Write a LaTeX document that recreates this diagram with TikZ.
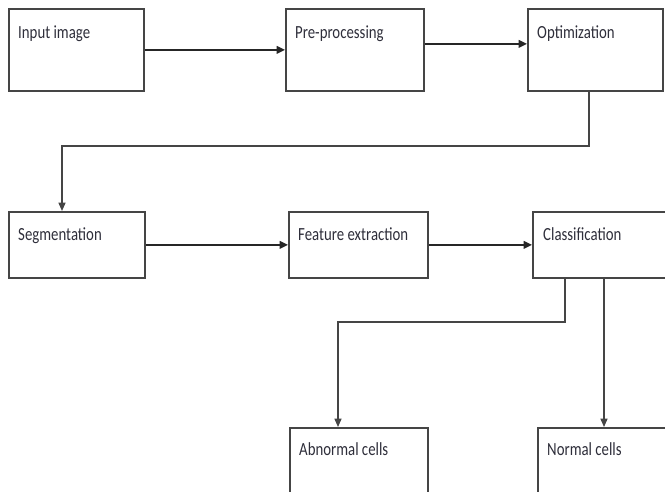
\documentclass[tikz,border=0pt]{standalone}
\usepackage{fontspec}
\usetikzlibrary{arrows.meta}
\newfontfamily\stagefont[FakeStretch=0.8]{Carlito}
\definecolor{inkgray}{HTML}{2E2E3A}
\definecolor{edgegray}{HTML}{454545}

\begin{document}
\begin{tikzpicture}[x=0.03cm, y=-0.03cm,
    stage/.style={draw=edgegray, line width=1.5pt, anchor=north west, inner sep=0pt},
    tag/.style={anchor=base west, inner sep=0pt, text=inkgray, font=\stagefont\fontsize{15.8}{19}\selectfont},
    flow/.style={draw=black!85, line width=1.4pt, -{Triangle[length=2.5mm, width=2.3mm]}},
    link/.style={draw=edgegray, line width=1.1pt, -{Triangle[length=2.5mm, width=2.1mm]}}]
  \clip (0,0) rectangle (665,491);
  % first row
  \node[stage, minimum width=4.05cm, minimum height=2.46cm] (input) at (8,8) {};
  \node[stage, minimum width=4.14cm, minimum height=2.46cm] (prep) at (285,8) {};
  \node[stage, minimum width=4.05cm, minimum height=2.46cm] (optim) at (527,8) {};
  % second row
  \node[stage, minimum width=4.08cm, minimum height=1.98cm] (segm) at (8,211) {};
  \node[stage, minimum width=4.17cm, minimum height=1.98cm] (feat) at (288,211) {};
  \node[stage, minimum width=4.2cm, minimum height=1.98cm] (class) at (532,211) {};
  % results
  \node[stage, minimum width=4.14cm, minimum height=2.7cm] (abn) at (289,427) {};
  \node[stage, minimum width=4.2cm, minimum height=2.7cm] (norm) at (537,427) {};
  % box texts
  \node[tag] (inputtxt) at ([shift={(10,30)}]input.north west) {Input image};
  \node[tag] (preptxt) at ([shift={(10,30)}]prep.north west) {Pre-processing};
  \node[tag] (optimtxt) at ([shift={(10,30)}]optim.north west) {Optimization};
  \node[tag] (segmtxt) at ([shift={(10,29)}]segm.north west) {Segmentation};
  \node[tag] (feattxt) at ([shift={(10,29)}]feat.north west) {Feature extraction};
  \node[tag] (classtxt) at ([shift={(11,29)}]class.north west) {Classification};
  \node[tag] (abntxt) at ([shift={(10,28)}]abn.north west) {Abnormal cells};
  \node[tag] (normtxt) at ([shift={(10,28)}]norm.north west) {Normal cells};
  % connectors
  \coordinate (elbowA) at (589,146);
  \coordinate (elbowB) at (62,146);
  \coordinate (splitA) at (565,322);
  \coordinate (splitB) at (338,322);
  \coordinate (splitC) at (604,322);
  \draw[flow] (input.east) -- (prep.west);
  \draw[flow] ([yshift=0.18cm]prep.east) -- ([yshift=0.18cm]optim.west);
  \draw[link] (optim.south -| elbowA) -- (elbowA) -- (elbowB) -- (segm.north -| elbowB);
  \draw[flow] (segm.east) -- (feat.west);
  \draw[flow] (feat.east) -- (class.west);
  \draw[link] (class.south -| splitA) -- (splitA) -- (splitB) -- (abn.north -| splitB);
  \draw[link] (class.south -| splitC) -- (norm.north -| splitC);
\end{tikzpicture}
\end{document}
